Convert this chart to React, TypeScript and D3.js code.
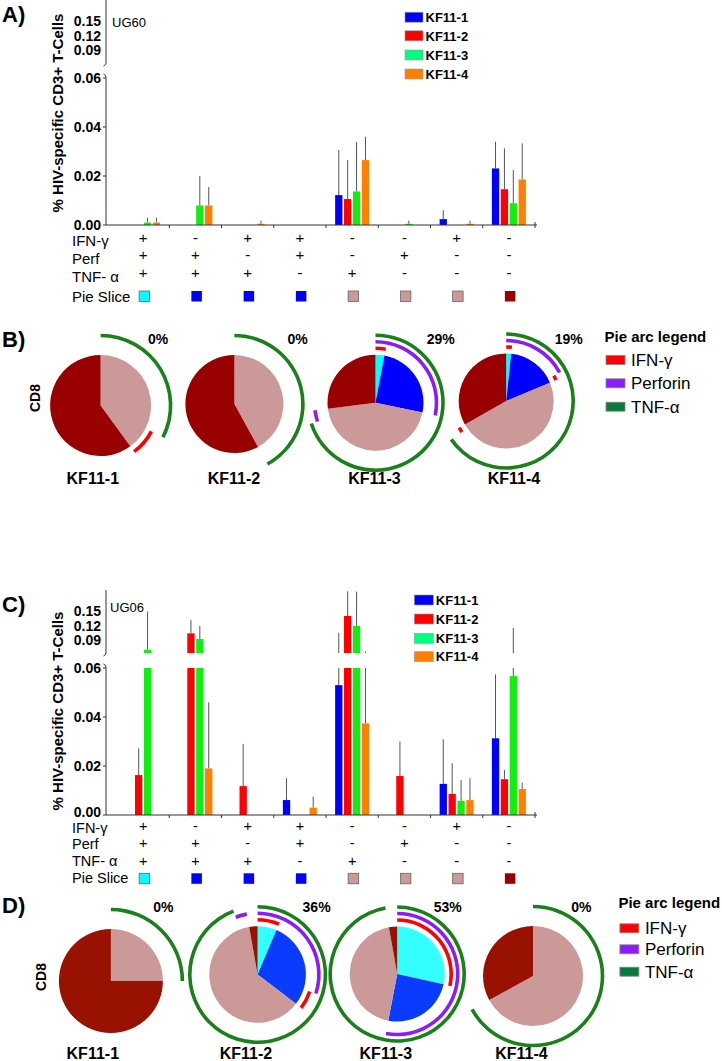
import React from "react";
import * as d3 from "d3";

const FONT = "'Liberation Sans', Arial, Helvetica, sans-serif";

// cytokine combinations, one per column of the table
const ifnRow = ["+", "-", "+", "+", "-", "-", "+", "-"];
const perfRow = ["+", "+", "-", "+", "-", "+", "-", "-"];
const tnfRow = ["+", "+", "+", "-", "+", "-", "-", "-"];
const sliceKind = ["triple", "double", "double", "double", "single", "single", "single", "none"];
const tableLabels = ["IFN-γ", "Perf", "TNF- α", "Pie Slice"];

const series = ["KF11-1", "KF11-2", "KF11-3", "KF11-4"];

// A) UG60 - mean % and top of error bar
const ug60Kf1 = [0, 0, 0, 0, 0.0122, 0, 0.0024, 0.0231];
const ug60Kf1Err = [0, 0, 0, 0, 0.0306, 0, 0.006, 0.034];
const ug60Kf2 = [0, 0, 0, 0, 0.0106, 0, 0, 0.0146];
const ug60Kf2Err = [0, 0, 0, 0, 0.0265, 0, 0, 0.0313];
const ug60Kf3 = [0.001, 0.008, 0, 0, 0.0137, 0.0005, 0, 0.0089];
const ug60Kf3Err = [0.003, 0.02, 0, 0, 0.0338, 0.0018, 0, 0.0224];
const ug60Kf4 = [0.001, 0.008, 0.0005, 0, 0.0265, 0, 0.0005, 0.0186];
const ug60Kf4Err = [0.003, 0.0155, 0.0018, 0, 0.036, 0, 0.0017, 0.0333];

// C) UG06
const ug06Kf1 = [0, 0, 0, 0.0061, 0.053, 0, 0.0127, 0.0313];
const ug06Kf1Err = [0, 0, 0, 0.015, 0.105, 0, 0.0309, 0.0574];
const ug06Kf2 = [0.0163, 0.1037, 0.0118, 0, 0.1397, 0.0159, 0.0086, 0.0146];
const ug06Kf2Err = [0.0272, 0.131, 0.029, 0, 0.191, 0.0299, 0.0211, 0.0184];
const ug06Kf3 = [0.07, 0.092, 0, 0, 0.119, 0, 0.0058, 0.0567];
const ug06Kf3Err = [0.149, 0.119, 0, 0, 0.19, 0, 0.0143, 0.115];
const ug06Kf4 = [0, 0.019, 0, 0.003, 0.0374, 0, 0.0061, 0.0106];
const ug06Kf4Err = [0, 0.046, 0, 0.0075, 0.066, 0, 0.015, 0.0133];

// B) / D) pie fractions per combination
const pieB1 = [0, 0, 0, 0, 0.325, 0, 0.075, 0.6];
const pieB2 = [0, 0, 0, 0, 0.42, 0, 0, 0.58];
const pieB3 = [0.03, 0.253, 0, 0, 0.417, 0.03, 0, 0.27];
const pieB4 = [0.017, 0.155, 0.015, 0, 0.466, 0, 0.015, 0.332];
const pieD1 = [0, 0, 0, 0, 0.25, 0, 0, 0.75];
const pieD2 = [0.064, 0.236, 0.054, 0, 0.588, 0.03, 0, 0.028];
const pieD3 = [0.285, 0.245, 0, 0, 0.442, 0, 0, 0.028];
const pieD4 = [0, 0, 0, 0, 0.67, 0, 0, 0.33];
const pctB = ["0%", "0%", "29%", "19%"];
const pctD = ["0%", "36%", "53%", "0%"];

const arcFunctions = ["IFN-γ", "Perforin", "TNF-α"];

const barColors = ["#0000ff", "#ff0000", "#11ee11", "#ff8000"];
const legendColors = ["#0000ff", "#ff0000", "#00ff80", "#ff8000"];
const ringColors = ["#ff0000", "#8b1aff", "#1a801a"];
const ringLegendColors = ["#ff0000", "#8b1aff", "#087a3a"];
const squareColors: Record<string, string> = {
  triple: "#00ffff",
  double: "#0000ff",
  single: "#cc9999",
  none: "#990000",
};

interface BarLayout {
  y0: number;
  tag: string;
  tagX: number;
  tagY: number;
  legX: number;
  legW: number;
  legYs: number[];
  ylabY: number;
  zeroShift: number;
  tableFont: number;
  labelYs: number[];
  signYs: number[];
  squareY: number;
}

const layoutA: BarLayout = {
  y0: 225,
  tag: "UG60",
  tagX: 112,
  tagY: 27,
  legX: 405,
  legW: 18,
  legYs: [17.2, 35.8, 55, 74],
  ylabY: 113,
  zeroShift: 4.8,
  tableFont: 15,
  labelYs: [245.5, 263.7, 282, 302],
  signYs: [242.5, 260, 277.5],
  squareY: 291,
};

const layoutC: BarLayout = {
  y0: 815,
  tag: "UG06",
  tagX: 110,
  tagY: 612,
  legX: 414.3,
  legW: 19,
  legYs: [600, 619, 638.3, 656.7],
  ylabY: 711,
  zeroShift: 2.3,
  tableFont: 14.5,
  labelYs: [832.5, 849.3, 865.8, 882.8],
  signYs: [831.2, 848.4, 865.5],
  squareY: 873.3,
};

type Run = { start: number; end: number; key: string };

// join neighbouring pie arcs that share a key into one run
function mergeRuns(arcs: d3.PieArcDatum<number>[], keyOf: (i: number) => string | null): Run[] {
  const runs: Run[] = [];
  arcs.forEach((a, i) => {
    const k = keyOf(i);
    if (k === null || a.value <= 0) return;
    const last = runs[runs.length - 1];
    if (last && last.key === k && Math.abs(last.end - a.startAngle) < 1e-6) last.end = a.endAngle;
    else runs.push({ start: a.startAngle, end: a.endAngle, key: k });
  });
  return runs;
}

const BarPanel: React.FC<{ p: BarLayout; values: number[][]; errs: number[][] }> = ({
  p,
  values,
  errs,
}) => {
  const x = d3.scaleBand<number>().domain(d3.range(8)).range([117, 535]);
  const xs = d3.scaleBand<string>().domain(series).range([-17, 17]).paddingInner(0.18);
  const yLo = d3.scaleLinear().domain([0, 0.06]).range([p.y0, p.y0 - 147]);
  const yHi = d3.scaleLinear().domain([0.09, 0.15]).range([p.y0 - 175, p.y0 - 204]);
  const hiBottom = p.y0 - 162;
  const hiTop = p.y0 - 225;
  const axisX = 106;
  const bw = xs.bandwidth();
  const rows = [ifnRow, perfRow, tnfRow];

  const bars: JSX.Element[] = [];
  const whiskers: JSX.Element[] = [];
  series.forEach((s, si) => {
    values[si].forEach((v, i) => {
      if (v <= 0) return;
      const bx = (x(i) as number) + x.bandwidth() / 2 + (xs(s) as number);
      const cx = bx + bw / 2;
      const e = errs[si][i];
      if (v <= 0.06) {
        const top = yLo(v);
        bars.push(
          <rect key={`b${si}-${i}`} x={bx} y={Math.min(top, p.y0 - 1.2)} width={bw}
            height={Math.max(p.y0 - top, 1.2)} fill={barColors[si]} />
        );
      } else {
        bars.push(
          <rect key={`b${si}-${i}`} x={bx} y={yLo(0.06)} width={bw} height={p.y0 - yLo(0.06)}
            fill={barColors[si]} />
        );
        bars.push(
          <rect key={`bh${si}-${i}`} x={bx} y={yHi(v)} width={bw} height={hiBottom - yHi(v)}
            fill={barColors[si]} />
        );
      }
      if (e > v) {
        if (v < 0.06) {
          whiskers.push(
            <line key={`el${si}-${i}`} x1={cx} x2={cx} y1={yLo(v)} y2={yLo(Math.min(e, 0.06))}
              stroke="#555" strokeWidth={1} />
          );
        }
        if (e > 0.063) {
          const from = v > 0.06 ? yHi(v) : hiBottom;
          whiskers.push(
            <line key={`eh${si}-${i}`} x1={cx} x2={cx} y1={from} y2={yHi(e)}
              stroke="#555" strokeWidth={1} />
          );
        }
      }
    });
  });

  return (
    <g>
      {/* y axis, broken */}
      <line x1={axisX} x2={axisX} y1={hiTop} y2={hiBottom} stroke="#333" />
      <path d={`M${axisX},${hiBottom} q0,2 -2.5,3`} fill="none" stroke="#333" />
      <line x1={axisX} x2={axisX} y1={yLo(0.06) - 1} y2={p.y0} stroke="#333" />
      <path d={`M${axisX},${yLo(0.06) - 1} q0,-2 -2.5,-3`} fill="none" stroke="#333" />
      {[0, 0.02, 0.04, 0.06].map((t) => (
        <g key={`lt${t}`}>
          <line x1={axisX - 3} x2={axisX} y1={yLo(t)} y2={yLo(t)} stroke="#333" />
          <text x={101} y={yLo(t) + (t === 0 ? p.zeroShift : 4.8)} textAnchor="end" fontSize={14}
            fontWeight="bold">
            {d3.format(".2f")(t)}
          </text>
        </g>
      ))}
      {[0.09, 0.12, 0.15].map((t) => (
        <text key={`ht${t}`} x={101} y={yHi(t) + 5} textAnchor="end" fontSize={14} fontWeight="bold">
          {d3.format(".2f")(t)}
        </text>
      ))}
      <text transform={`translate(63,${p.ylabY}) rotate(-90)`} textAnchor="middle" fontSize={15}
        fontWeight="bold">
        % HIV-specific CD3+ T-Cells
      </text>
      <text x={p.tagX} y={p.tagY} fontSize={13}>
        {p.tag}
      </text>

      {whiskers}
      {bars}

      {/* x axis */}
      <line x1={axisX} x2={537} y1={p.y0} y2={p.y0} stroke="#333" />
      {d3.range(8).map((i) => {
        const tx = (x(i) as number) + x.bandwidth();
        return <line key={`xt${i}`} x1={tx} x2={tx} y1={p.y0 - (i === 7 ? 3 : 0)} y2={p.y0 + 3} stroke="#333" />;
      })}

      {/* legend */}
      {series.map((s, si) => (
        <g key={`lg${s}`}>
          <rect x={p.legX} y={p.legYs[si] - 5} width={p.legW} height={10} fill={legendColors[si]}
            stroke="#999" strokeWidth={0.6} />
          <text x={p.legX + p.legW + 2.5} y={p.legYs[si] + 4.7} fontSize={13} fontWeight="bold">
            {s}
          </text>
        </g>
      ))}

      {/* combination table */}
      {tableLabels.map((l, li) => (
        <text key={`tl${li}`} x={72} y={p.labelYs[li]} fontSize={p.tableFont}>
          {l}
        </text>
      ))}
      {rows.map((row, ri) =>
        row.map((sgn, i) => (
          <text key={`sg${ri}-${i}`} x={(x(i) as number) + x.bandwidth() / 2} y={p.signYs[ri]}
            textAnchor="middle" fontSize={p.tableFont}>
            {sgn}
          </text>
        ))
      )}
      {sliceKind.map((k, i) => (
        <rect key={`sq${i}`} x={(x(i) as number) + x.bandwidth() / 2 - 4} y={p.squareY} width={10.5}
          height={10.5} fill={squareColors[k]}
          stroke={k === "triple" || k === "single" ? "#666" : "none"} strokeWidth={0.8} />
      ))}
    </g>
  );
};

interface PieLayout {
  cx: number[];
  cy: number[];
  r: number[];
  nameX: number[];
  nameY: number;
  pctX: number[];
  pctY: number;
  cd8X: number;
  cd8Y: number;
  legX: number;
  titleY: number;
  legYs: number[];
  colors: Record<string, string>;
}

const layoutB: PieLayout = {
  cx: [100.6, 234.4, 375.5, 506.2],
  cy: [405.5, 404, 402.7, 401],
  r: [50.5, 49, 48, 47.5],
  nameX: [92.8, 234, 374.5, 514],
  nameY: 484,
  pctX: [158, 297.7, 440.7, 568.8],
  pctY: 343.5,
  cd8X: 40,
  cd8Y: 398,
  legX: 604.5,
  titleY: 342,
  legYs: [360, 383.3, 406.7],
  colors: { triple: "#00ffff", double: "#0000ff", single: "#cc9999", none: "#990000" },
};

const layoutD: PieLayout = {
  cx: [110.9, 257.6, 397.2, 533],
  cy: [981, 974.5, 974, 976],
  r: [52, 48.3, 47.5, 50],
  nameX: [92.8, 246, 385.8, 521.5],
  nameY: 1059,
  pctX: [163.4, 316.6, 447.7, 581.4],
  pctY: 911.7,
  cd8X: 46,
  cd8Y: 977,
  legX: 618.4,
  titleY: 908,
  legYs: [928.3, 949.3, 971.7],
  colors: { triple: "#33ffff", double: "#0a3cff", single: "#cc9999", none: "#991100" },
};

const ringOffsets = [6.5, 13, 19.5];

const PiePanel: React.FC<{ p: PieLayout; pies: number[][]; pcts: string[] }> = ({ p, pies, pcts }) => {
  const pieGen = d3
    .pie<number>()
    .sort(null)
    .value((d) => d)
    .startAngle(0)
    .endAngle(2 * Math.PI);
  const rows = [ifnRow, perfRow, tnfRow];

  return (
    <g>
      <text transform={`translate(${p.cd8X},${p.cd8Y}) rotate(-90)`} textAnchor="middle" fontSize={14}
        fontWeight="bold">
        CD8
      </text>
      {pies.map((vals, pi) => {
        const r = p.r[pi];
        const arcs = pieGen(vals);
        const slice = d3
          .arc<Run>()
          .innerRadius(0)
          .outerRadius(r)
          .startAngle((d) => d.start)
          .endAngle((d) => d.end);
        const slices = mergeRuns(arcs, (i) => sliceKind[i]);
        return (
          <g key={`pie${pi}`} transform={`translate(${p.cx[pi]},${p.cy[pi]})`}>
            {slices.map((s, i) => (
              <path key={`s${i}`} d={slice(s) as string} fill={p.colors[s.key]} />
            ))}
            {rows.map((row, ri) => {
              const ring = d3
                .arc<Run>()
                .innerRadius(r + ringOffsets[ri] - 1.8)
                .outerRadius(r + ringOffsets[ri] + 1.8)
                .startAngle((d) => d.start)
                .endAngle((d) => d.end);
              return mergeRuns(arcs, (i) => (row[i] === "+" ? "on" : null)).map((run, k) => (
                <path key={`r${ri}-${k}`} d={ring(run) as string} fill={ringColors[ri]} />
              ));
            })}
          </g>
        );
      })}
      {series.map((s, si) => (
        <text key={`nm${s}`} x={p.nameX[si]} y={p.nameY} textAnchor="middle" fontSize={16} fontWeight="bold">
          {s}
        </text>
      ))}
      {pcts.map((t, si) => (
        <text key={`pc${si}`} x={p.pctX[si]} y={p.pctY} textAnchor="middle" fontSize={14} fontWeight="bold">
          {t}
        </text>
      ))}
      <text x={p.legX} y={p.titleY} fontSize={15} fontWeight="bold">
        Pie arc legend
      </text>
      {arcFunctions.map((f, fi) => (
        <g key={`al${f}`}>
          <rect x={p.legX + 1.5} y={p.legYs[fi] - 4.5} width={19} height={9} fill={ringLegendColors[fi]}
            stroke="#888" strokeWidth={0.8} />
          <text x={p.legX + 26.5} y={p.legYs[fi] + 6} fontSize={17}>
            {f}
          </text>
        </g>
      ))}
    </g>
  );
};

export default function App() {
  const ug60 = [ug60Kf1, ug60Kf2, ug60Kf3, ug60Kf4];
  const ug60Err = [ug60Kf1Err, ug60Kf2Err, ug60Kf3Err, ug60Kf4Err];
  const ug06 = [ug06Kf1, ug06Kf2, ug06Kf3, ug06Kf4];
  const ug06Err = [ug06Kf1Err, ug06Kf2Err, ug06Kf3Err, ug06Kf4Err];

  return (
    <svg
      width={722}
      height={1061}
      style={{ position: "absolute", left: 0, top: 0, background: "#fff" }}
      fontFamily={FONT}
    >
      <rect width={722} height={1061} fill="#fff" />
      <text x={2} y={21.5} fontSize={22} fontWeight="bold">A)</text>
      <text x={2} y={346.7} fontSize={22} fontWeight="bold">B)</text>
      <text x={2} y={611.7} fontSize={22} fontWeight="bold">C)</text>
      <text x={2} y={913.3} fontSize={22} fontWeight="bold">D)</text>
      <BarPanel p={layoutA} values={ug60} errs={ug60Err} />
      <PiePanel p={layoutB} pies={[pieB1, pieB2, pieB3, pieB4]} pcts={pctB} />
      <BarPanel p={layoutC} values={ug06} errs={ug06Err} />
      <PiePanel p={layoutD} pies={[pieD1, pieD2, pieD3, pieD4]} pcts={pctD} />
    </svg>
  );
}
